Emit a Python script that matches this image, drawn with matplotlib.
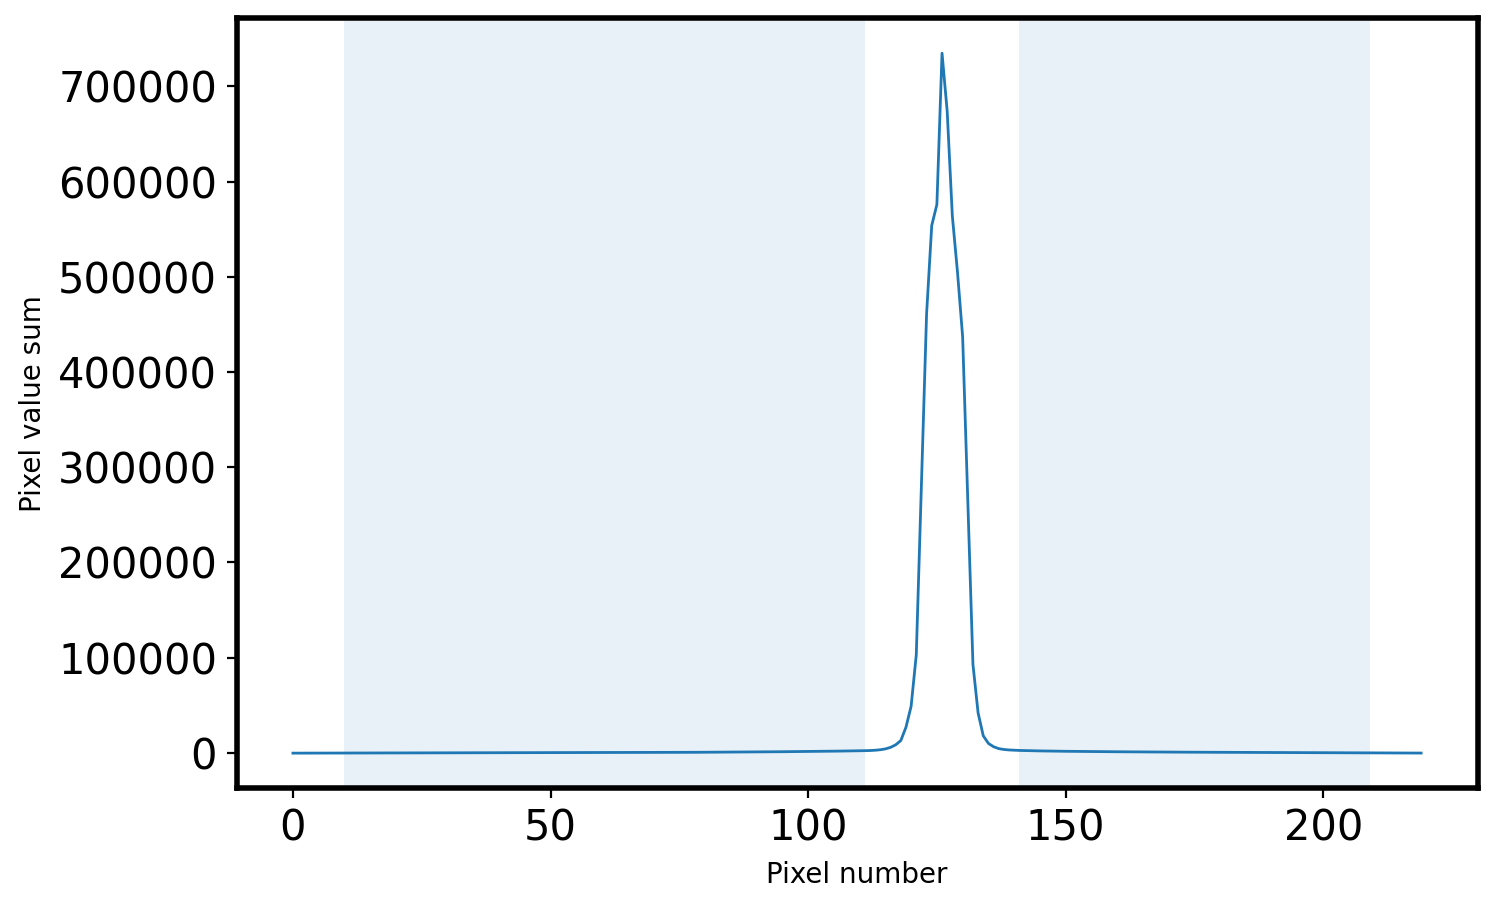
import numpy as np
import matplotlib
matplotlib.use("Agg")
from matplotlib import pyplot as plt

# Suma de valores de pixel por columna
flat_left = [
    -250, -240, -240, -230, -230, -220, -210, -210, -200, -190,
    -190, -180, -170, -170, -160, -150, -150, -140, -130, -120,
    -120, -110, -100, -90, -90, -80, -70, -60, -50, -40,
    -40, -30, -20, -10, 0, 10, 20, 30, 40, 50,
    60, 70, 80, 90, 100, 110, 120, 130, 140, 150,
    160, 170, 180, 190, 200, 210, 220, 240, 250, 260,
    280, 290, 310, 320, 340, 350, 370, 390, 410, 430,
    450, 470, 490, 510, 530, 560, 580, 610, 630, 660,
    690, 720, 750, 780, 810, 840, 880, 910, 950, 990,
    1030, 1070, 1110, 1160, 1200, 1250, 1300, 1350, 1400, 1460,
    1510, 1570, 1630, 1690, 1760, 1830, 1900, 1980, 2060, 2150,
    2250, 2350,
]
peak = [
    2500, 2800, 3300, 4200, 5800, 8500, 13000, 27000, 49000, 103000,
    282000, 461000, 554000, 576000, 735000, 674000, 564000, 505000, 437000, 265000,
    93000, 42000, 18000, 10000, 6500, 4500, 3600, 3100, 2800,
]
flat_right = [
    2600, 2450, 2300, 2200, 2100, 2000, 1920, 1840, 1770, 1700,
    1640, 1580, 1520, 1470, 1420, 1370, 1320, 1280, 1240, 1200,
    1160, 1120, 1080, 1040, 1010, 980, 950, 920, 890, 860,
    830, 800, 780, 750, 730, 700, 680, 650, 630, 610,
    590, 570, 550, 530, 510, 490, 470, 450, 430, 410,
    390, 370, 350, 330, 310, 290, 270, 250, 230, 210,
    190, 170, 150, 130, 110, 90, 70, 50, 30, 10,
    -10, -30, -50, -70, -90, -110, -130, -150, -170,
]
column_sum = np.array(flat_left + peak + flat_right)
pixels = np.arange(len(column_sum))

# Zonas de fondo sombreadas
bg_regions = [(10, 111), (141, 209)]

fig = plt.figure(figsize=(7.485, 4.54), dpi=200)
ax = fig.add_axes([0.158, 0.132, 0.829, 0.848])

for (start, end) in bg_regions:
    ax.axvspan(start, end, color='C0', alpha=0.1, lw=0)

ax.plot(pixels, column_sum, color='C0', lw=1.0)

ax.set_xlabel('Pixel number', fontsize=10)
ax.set_ylabel('Pixel value sum', fontsize=10)
ax.tick_params(labelsize=15)
for s in ax.spines.values():
    s.set_linewidth(2)

fig.savefig('out.png', dpi=200)
